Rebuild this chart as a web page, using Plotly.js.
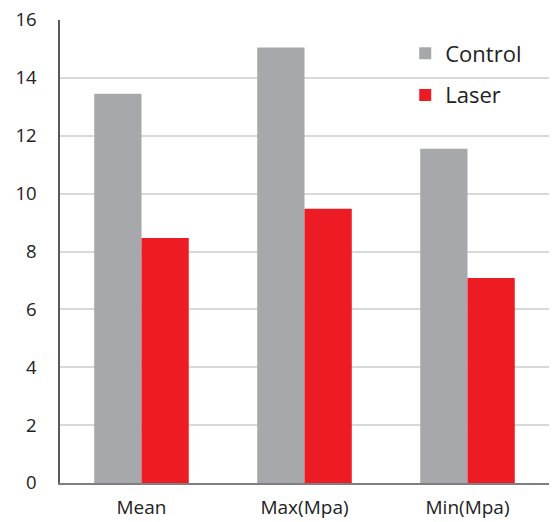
<!DOCTYPE html>
<html><head><meta charset="utf-8">
<script src="https://cdn.plot.ly/plotly-3.0.1.min.js"></script>
<style>html,body{margin:0;padding:0;background:#fff}#chart{width:553px;height:522px}</style>
</head><body><div id="chart"></div>
<script>
const categories = ["Mean", "Max(Mpa)", "Min(Mpa)"];
const controlValues = [13.45, 15.05, 11.55];
const laserValues = [8.47, 9.48, 7.08];
const yTicks = [0, 2, 4, 6, 8, 10, 12, 14, 16];

const font = "'Open Sans', sans-serif";
const data = [
  {type: "bar", name: "Control", x: categories, y: controlValues, marker: {color: "#a7a8ab"}, legendgroup: "a"},
  {type: "bar", name: "Laser", x: categories, y: laserValues, marker: {color: "#ed1c24"}, legendgroup: "b"}
];
const layout = {
  width: 553, height: 522,
  margin: {l: 60, r: 4, t: 20, b: 39},
  paper_bgcolor: "#fff", plot_bgcolor: "#fff",
  barmode: "group", bargap: 0.42, bargroupgap: 0,
  font: {family: font, color: "#222"},
  xaxis: {
    showline: true, linecolor: "#7f7f7f", linewidth: 1.5,
    ticks: "", tickfont: {size: 19, color: "#222"}, ticklabelstandoff: 6
  },
  yaxis: {
    range: [0, 16], tickvals: yTicks, ticktext: yTicks.map(String),
    showgrid: true, gridcolor: "#d9d9d9", gridwidth: 1.5,
    showline: true, linecolor: "#595959", linewidth: 1.5,
    zeroline: false, ticks: "", tickfont: {size: 18.5, color: "#222"}, ticklabelstandoff: 18
  },
  showlegend: true,
  legend: {x: 0.706, y: 0.973, xanchor: "left", yanchor: "top", bgcolor: "rgba(255,255,255,0)",
    font: {size: 22, color: "#222"}, traceorder: "grouped", tracegroupgap: 10}
};
Plotly.newPlot("chart", data, layout, {displayModeBar: false});
</script></body></html>
